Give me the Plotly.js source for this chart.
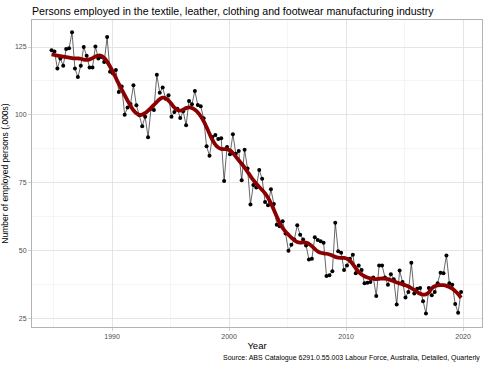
<!DOCTYPE html>
<html>
<head>
<meta charset="utf-8">
<script src="https://cdn.plot.ly/plotly-3.0.1.min.js"></script>
<style>
html,body{margin:0;padding:0;background:#fff;}
#chart{width:486px;height:365px;}
</style>
</head>
<body>
<div id="chart"></div>
<script>
// Quarterly series, first observation Nov 1984
const startYear = 1984.83;
const employed = [
  123.8,123.3,117.1,120.8,118.1,124.3,124.5,130.4,117.1,113.9,
  118.1,125.0,121.8,117.4,117.4,125.2,120.8,121.3,119.5,128.7,
  115.9,115.2,116.5,108.4,110.4,100.0,102.7,104.0,110.9,103.5,
  99.8,95.8,99.3,91.7,102.2,101.8,114.8,108.1,110.1,105.9,
  107.2,99.3,101.0,102.2,98.8,101.3,96.1,105.1,103.9,108.8,
  103.6,103.1,98.7,88.4,84.9,91.8,92.5,91.1,91.3,75.6,
  88.1,85.4,92.8,85.6,86.6,75.8,87.1,80.2,66.9,74.1,
  73.2,79.6,76.4,67.8,66.6,72.5,67.1,59.4,58.9,60.7,
  56.2,49.8,52.0,54.0,59.2,55.7,54.0,51.8,46.6,46.9,
  54.8,53.8,53.3,52.8,40.5,40.8,42.3,60.2,49.6,49.1,
  42.7,44.4,46.9,48.4,41.5,44.4,42.7,37.8,38.0,38.3,
  40.0,33.1,44.4,44.4,40.0,37.3,41.2,39.3,30.0,42.5,
  38.3,32.6,34.6,45.4,34.1,35.8,36.1,31.2,26.7,36.1,
  33.4,34.6,37.8,41.7,41.5,48.1,37.8,37.3,30.2,27.0,
  34.6
];
const years = employed.map((v, i) => startYear + i * 0.25);
const xTicks = [1990, 2000, 2010, 2020];
const yTicks = [25, 50, 75, 100, 125];

// LOESS smoother (local quadratic, tricube weights) computed from the data
function loess(xs, ys, span) {
  const n = xs.length, q = Math.max(3, Math.floor(span * n));
  const out = [];
  for (let i = 0; i < n; i++) {
    const x0 = xs[i];
    const d = xs.map(x => Math.abs(x - x0));
    const sorted = d.slice().sort((a, b) => a - b);
    const h = sorted[q - 1] * 1.000001;
    let S = [[0,0,0],[0,0,0],[0,0,0]], T = [0,0,0];
    for (let j = 0; j < n; j++) {
      const u = d[j] / h;
      if (u >= 1) continue;
      const w = Math.pow(1 - u*u*u, 3);
      const dx = xs[j] - x0;
      const b = [1, dx, dx*dx];
      for (let a = 0; a < 3; a++) {
        T[a] += w * b[a] * ys[j];
        for (let c = 0; c < 3; c++) S[a][c] += w * b[a] * b[c];
      }
    }
    const M = S.map((r, k) => r.concat([T[k]]));
    for (let c = 0; c < 3; c++) {
      let p = c;
      for (let r = c+1; r < 3; r++) if (Math.abs(M[r][c]) > Math.abs(M[p][c])) p = r;
      [M[c], M[p]] = [M[p], M[c]];
      for (let r = 0; r < 3; r++) {
        if (r === c) continue;
        const f = M[r][c] / M[c][c];
        for (let k = c; k < 4; k++) M[r][k] -= f * M[c][k];
      }
    }
    out.push(M[0][3] / M[0][0]);
  }
  return out;
}
const smooth = loess(years, employed, 0.17);

const traces = [
  {
    x: years, y: employed, type: 'scatter', mode: 'lines+markers',
    line: {color: '#000', width: 0.6},
    marker: {color: '#000', size: 4},
    hoverinfo: 'skip'
  },
  {
    x: years, y: smooth, type: 'scatter', mode: 'lines',
    line: {color: '#8b0000', width: 3.8, shape: 'spline'},
    hoverinfo: 'skip'
  }
];

const layout = {
  width: 486, height: 365,
  margin: {l: 32, r: 4, t: 20, b: 38},
  paper_bgcolor: '#fff', plot_bgcolor: '#fff',
  showlegend: false,
  font: {family: 'Liberation Sans, Arial, sans-serif', color: '#000'},
  title: {
    text: 'Persons employed in the textile, leather, clothing and footwear manufacturing industry',
    x: 0, xref: 'paper', xanchor: 'left', y: 0.97, yref: 'container', yanchor: 'middle',
    font: {size: 10.6, color: '#000'}
  },
  xaxis: {
    range: [1983.16, 2021.62],
    tickvals: xTicks, ticktext: xTicks.map(String),
    ticks: 'outside', ticklen: 3, tickcolor: '#b3b3b3', tickwidth: 0.6,
    tickfont: {size: 7, color: '#4d4d4d'},
    showgrid: true, gridcolor: '#dedede', gridwidth: 0.8,
    minor: {tickvals: [1985, 1995, 2005, 2015], showgrid: true, gridcolor: '#ececec', gridwidth: 0.5, ticks: ''},
    zeroline: false, showline: true, linecolor: '#b3b3b3', linewidth: 1, mirror: true,
    title: {text: 'Year', font: {size: 9.5, color: '#000'}, standoff: 2}
  },
  yaxis: {
    range: [21.7, 134.96],
    tickvals: yTicks, ticktext: yTicks.map(String),
    ticks: 'outside', ticklen: 3, tickcolor: '#b3b3b3', tickwidth: 0.6,
    tickfont: {size: 7, color: '#4d4d4d'},
    showgrid: true, gridcolor: '#dedede', gridwidth: 0.8,
    minor: {tickvals: [37.5, 62.5, 87.5, 112.5], showgrid: true, gridcolor: '#ececec', gridwidth: 0.5, ticks: ''},
    zeroline: false, showline: true, linecolor: '#b3b3b3', linewidth: 1, mirror: true,
    title: {text: 'Number of employed persons (,000s)', font: {size: 8.5, color: '#000'}, standoff: 4}
  },
  annotations: [{
    text: 'Source: ABS Catalogue 6291.0.55.003 Labour Force, Australia, Detailed, Quarterly',
    xref: 'paper', yref: 'paper', x: 1, y: -0.08, xanchor: 'right', yanchor: 'top',
    showarrow: false, font: {size: 7, color: '#000'}
  }]
};

Plotly.newPlot('chart', traces, layout, {staticPlot: true, displayModeBar: false});
</script>
</body>
</html>
